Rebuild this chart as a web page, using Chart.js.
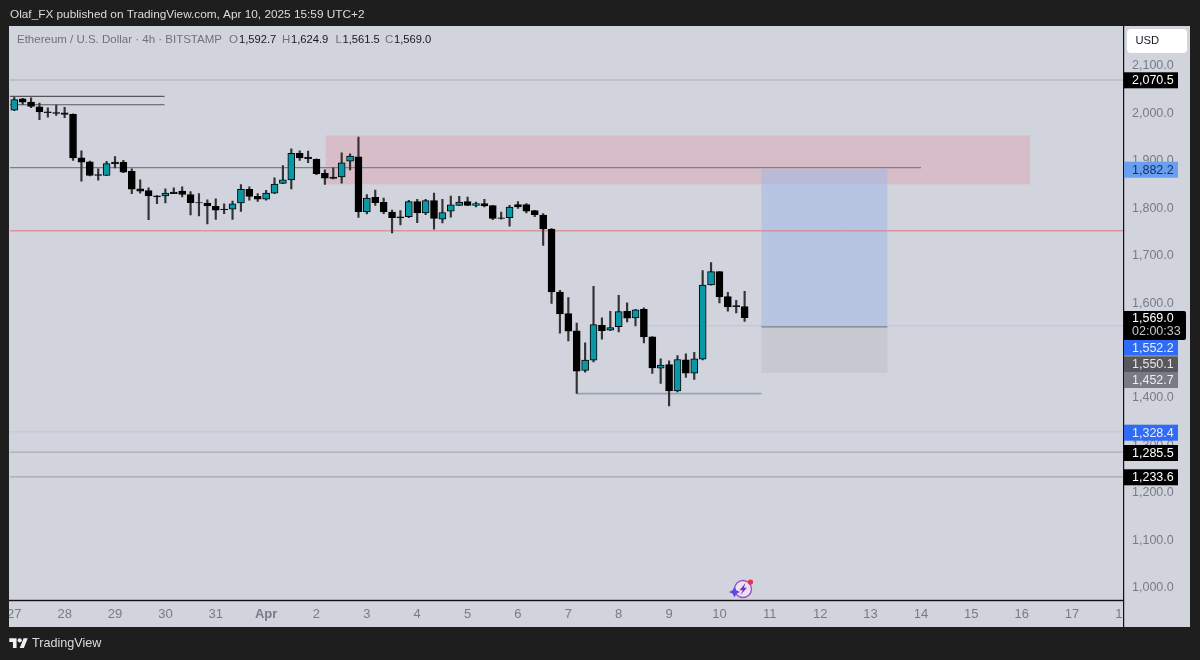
<!DOCTYPE html>
<html>
<head>
<meta charset="utf-8">
<title>ETHUSD 4h</title>
<script src="https://cdn.jsdelivr.net/npm/chart.js@4/dist/chart.umd.min.js"></script>
<style>
    html, body { margin: 0; padding: 0; background: #1e1e1e; }
    canvas { display: block; }
</style>
</head>
<body>
<canvas id="priceChart" width="1200" height="660"></canvas>
<script>
// 4h candles, bar 0 opens Mar 28, six bars per day
const barNumbers = [-6,-5,-4,-3,-2,-1,0,1,2,3,4,5,6,7,8,9,10,11,12,13,14,15,16,17,18,19,20,21,22,23,24,25,26,27,28,29,30,31,32,33,34,35,36,37,38,39,40,41,42,43,44,45,46,47,48,49,50,51,52,53,54,55,56,57,58,59,60,61,62,63,64,65,66,67,68,69,70,71,72,73,74,75,76,77,78,79,80,81];
const opens = [2007,2031,2024,2014,2003.5,2002,2001,1998,1906.5,1898,1871,1869,1897.4,1897,1878,1841,1837,1826,1826,1834,1836,1829,1812,1811,1804,1798,1798,1811,1840,1825,1819,1832,1852.4,1860,1916,1908,1903,1873.5,1866,1866,1899.5,1908.7,1792,1823,1812.4,1792,1782,1782,1814,1790,1816,1777,1794,1806,1814,1806,1809.6,1805.4,1780,1780,1807.5,1807.5,1795,1785.8,1756,1623,1577.8,1541.3,1457.7,1479.5,1553.2,1542.7,1550.4,1582.7,1568.7,1587,1528.6,1462.6,1470.3,1414.8,1480.2,1452,1481.6,1638.2,1666.3,1613.7,1594.7,1592.7];
const highs = [2034,2032,2033,2022,2012,2017.5,2013,1999,1921,1899.5,1883,1899,1909,1901,1883,1860,1843,1826.5,1841,1843,1845,1835,1831,1818,1820,1809.5,1815,1850,1845,1831,1838,1864,1890,1925.5,1921,1920.6,1904.4,1881,1885,1917,1915,1950,1829,1838.4,1821.5,1796,1795,1816.6,1819,1818.7,1832,1818.7,1825.8,1825,1823.7,1813,1818.7,1806,1792,1806,1813.8,1809.6,1795.6,1788.6,1757,1627,1611.5,1558,1516,1635.4,1568.7,1582.7,1616.5,1600.3,1587,1589.8,1529.3,1482.3,1478,1489.3,1492.8,1496.3,1668.4,1685.3,1666.3,1622.8,1606,1624.9];
const lows = [2006,2019,2012,1987,1992,1996,1991,1901,1857,1868,1859,1868.5,1885,1875,1831,1832,1776,1809.5,1811,1831,1824,1786,1784,1767,1776.5,1788.5,1776.5,1793.5,1817,1814.5,1817,1831,1851.7,1841,1901,1896,1871,1850.4,1861.6,1853,1881,1780.8,1788,1806,1788.5,1748,1765,1780,1769.6,1786.4,1756,1769,1781,1805.4,1805.4,1802.6,1802.6,1776,1777,1762,1799.8,1790,1782,1721.8,1599,1536.4,1520.2,1409.2,1454.2,1476,1523.7,1542,1539.2,1560,1552,1516,1451.4,1430.3,1383,1412.7,1443,1438.7,1480.2,1637.5,1600.3,1582.7,1579.2,1561.5];
const closes = [2029,2024,2015,2003,2001.5,2000,1998,1906,1897.4,1869,1869,1894,1894,1876,1840.5,1836,1826,1824,1832,1831,1829,1812,1811,1805,1796,1797,1809.5,1840,1825,1819,1832,1851,1860,1916,1906,1904.4,1873,1863.7,1863,1896,1910,1792.8,1821.5,1811.7,1792,1780,1779.4,1813.8,1790,1816,1778.7,1791,1807,1813,1806,1809.6,1804.7,1778.7,1778.7,1802.6,1802.6,1794,1786.4,1756.3,1623.5,1577,1540.6,1456.3,1479.5,1554.6,1542,1548.3,1582,1568,1585.6,1528.6,1463.3,1469,1414.8,1480.9,1452,1482.3,1638.2,1666.3,1613,1591.9,1592.6,1569];

// drawn levels: price plus first and last bar number of each line
const lineLevels = [2070.5, 2035.8, 2018.3, 1885.6, 1752.4, 1552.2, 1550.1, 1408.9, 1328.4, 1285.5, 1233.6];
const lineStarts = [-6.55, -6.55, -6.55, -6.55, -6.55, 69, 83, 61, -6.55, -6.55, -6.55];
const lineEnds = [126.07, 11.9, 11.9, 102, 126.07, 126.07, 98, 83, 126.07, 126.07, 126.07];
const lineColors = ['#aaadb6', '#55575d', '#55575d', '#7c7f88', '#d9797f', '#bcc4de', '#7f858d', '#98a2b2', '#bfc5e0', '#a9acb4', '#a4a7ae'];
const lineWidths = [1.2, 1.2, 1.2, 1.2, 1, 1, 1.6, 1.6, 1, 1.4, 1.2];

// zones: supply box, long target, long stop
const zoneTops = [1953.6, 1882.2, 1550.1];
const zoneBottoms = [1850.4, 1550.1, 1452.7];
const zoneStarts = [31.1, 83, 83];
const zoneEnds = [115, 98, 98];
const zoneColors = ['rgba(228,150,165,0.36)', 'rgba(150,180,235,0.45)', 'rgba(150,150,150,0.17)'];

const dayLabels = ['27','28','29','30','31','Apr','2','3','4','5','6','7','8','9','10','11','12','13','14','15','16','17','18'];

const tagValues = [2070.5, 1882.2, 1552.2, 1550.1, 1452.7, 1328.4, 1285.5, 1233.6];
const legendValues = [1592.7, 1624.9, 1561.5, 1569.0];
const countdown = '02:00:33';

const UI_FONT = '"Liberation Sans", Arial, sans-serif';
const PANEL = '#d1d4dc';
const FRAME = '#1e1e1e';
const TEAL = '#0a97a6';

function fmt(v) {
    return v.toLocaleString('en-US', { minimumFractionDigits: 1, maximumFractionDigits: 1 });
}

const candleWicks = barNumbers.map((n, i) => ({ x: n, y: [lows[i], highs[i]] }));
const candleBodies = barNumbers.map((n, i) => ({ x: n, y: [opens[i], closes[i]] }));
const bodyColors = barNumbers.map((n, i) => closes[i] > opens[i] ? TEAL : '#000000');

const levelDatasets = lineLevels.map((level, i) => ({
    type: 'line',
    order: 3,
    data: [{ x: lineStarts[i], y: level }, { x: lineEnds[i], y: level }],
    borderColor: lineColors[i],
    borderWidth: lineWidths[i],
    pointRadius: 0,
    tension: 0
}));

const framePlugin = {
    id: 'frame',
    beforeDraw(chart) {
        const ctx = chart.ctx;
        ctx.save();
        ctx.fillStyle = FRAME;
        ctx.fillRect(0, 0, 1200, 660);
        ctx.fillStyle = PANEL;
        ctx.fillRect(9, 26, 1181, 601);
        ctx.restore();
    },
    beforeDatasetsDraw(chart) {
        const ctx = chart.ctx;
        const x = chart.scales.x;
        const y = chart.scales.y;
        ctx.save();
        zoneTops.forEach((top, i) => {
            const left = x.getPixelForValue(zoneStarts[i]);
            const right = x.getPixelForValue(zoneEnds[i]);
            const py = y.getPixelForValue(top);
            ctx.fillStyle = zoneColors[i];
            ctx.fillRect(left, py, right - left, y.getPixelForValue(zoneBottoms[i]) - py);
        });
        ctx.restore();
    },
    afterDraw(chart) {
        const ctx = chart.ctx;
        ctx.save();
        // cut tick labels off at the panel edges
        ctx.fillStyle = FRAME;
        ctx.fillRect(0, 26, 9, 601);
        ctx.fillStyle = PANEL;
        ctx.fillRect(1124, 601, 66, 26);
        ctx.fillStyle = '#101014';
        ctx.fillRect(1123, 26, 1.2, 601);
        ctx.fillRect(9, 599.8, 1114, 1.4);

        drawHeader(ctx);
        drawPriceTags(ctx, chart.scales.y);
        drawBoltIcon(ctx);
        drawFooter(ctx);
        ctx.restore();
    }
};

function drawHeader(ctx) {
    ctx.textBaseline = 'middle';
    ctx.textAlign = 'left';
    ctx.font = '11.8px ' + UI_FONT;
    ctx.fillStyle = '#dcdcdc';
    ctx.fillText('Olaf_FX published on TradingView.com, Apr 10, 2025 15:59 UTC+2', 10, 15);

    ctx.font = '11.5px ' + UI_FONT;
    ctx.fillStyle = '#6f727d';
    ctx.fillText('Ethereum / U.S. Dollar · 4h · BITSTAMP', 17, 40);
    const letters = ['O', 'H', 'L', 'C'];
    const letterX = [229, 282, 335.5, 385];
    const valueX = [239, 291, 342.5, 394];
    letters.forEach((l, i) => {
        ctx.font = '11.5px ' + UI_FONT;
        ctx.fillStyle = '#6f727d';
        ctx.fillText(l, letterX[i], 40);
        ctx.font = '11.2px ' + UI_FONT;
        ctx.fillStyle = '#131722';
        ctx.fillText(fmt(legendValues[i]), valueX[i], 40);
    });

    // currency button
    ctx.fillStyle = '#ffffff';
    ctx.beginPath();
    ctx.roundRect(1127, 29, 60, 24, 4);
    ctx.fill();
    ctx.fillStyle = '#131722';
    ctx.font = '11.2px ' + UI_FONT;
    ctx.fillText('USD', 1135.5, 41);
}

function drawPriceTags(ctx, y) {
    // tags stack so they do not overlap, so their centres are not always at the price
    const centers = [80.3, 169.7, 347.7, 364.3, 380, 432.7, 453, 477.3];
    const fills = ['#000000', '#6a9ff0', '#2f6bf5', '#58585c', '#787a84', '#2f6bf5', '#000000', '#000000'];
    const inks = ['#ffffff', '#12306a', '#e8eeff', '#e6e6e6', '#eeeeee', '#e8eeff', '#ffffff', '#ffffff'];
    ctx.font = '12.5px ' + UI_FONT;
    ctx.textBaseline = 'middle';
    tagValues.forEach((v, i) => {
        ctx.fillStyle = fills[i];
        ctx.fillRect(1124, centers[i] - 8, 54, 16);
        ctx.fillStyle = inks[i];
        ctx.fillText(fmt(v), 1132, centers[i] + 0.5);
    });

    // last price with the bar countdown
    ctx.fillStyle = '#000000';
    ctx.beginPath();
    ctx.roundRect(1124, 311, 62, 29, [0, 2, 2, 0]);
    ctx.fill();
    ctx.fillStyle = '#ffffff';
    ctx.fillText(fmt(closes[closes.length - 1]), 1132, 318.5);
    ctx.fillStyle = '#c8c8c8';
    ctx.fillText(countdown, 1132, 331.5);
}

function drawBoltIcon(ctx) {
    ctx.fillStyle = '#e9e2f0';
    ctx.strokeStyle = '#a24fc4';
    ctx.lineWidth = 1.4;
    ctx.beginPath();
    ctx.arc(743, 589, 8.5, 0, Math.PI * 2);
    ctx.fill();
    ctx.stroke();
    ctx.fillStyle = '#7b2fb5';
    ctx.beginPath();
    ctx.moveTo(745.5, 583);
    ctx.lineTo(739.5, 590.2);
    ctx.lineTo(742.8, 590.2);
    ctx.lineTo(740.5, 595);
    ctx.lineTo(747, 587.8);
    ctx.lineTo(743.8, 587.8);
    ctx.closePath();
    ctx.fill();
    // spark
    ctx.fillStyle = '#5a49e6';
    ctx.beginPath();
    ctx.moveTo(734.5, 586.5);
    ctx.lineTo(736.3, 590.2);
    ctx.lineTo(740, 592);
    ctx.lineTo(736.3, 593.8);
    ctx.lineTo(734.5, 597.5);
    ctx.lineTo(732.7, 593.8);
    ctx.lineTo(729, 592);
    ctx.lineTo(732.7, 590.2);
    ctx.closePath();
    ctx.fill();
    ctx.fillStyle = '#e8344a';
    ctx.beginPath();
    ctx.arc(750.5, 582, 2.6, 0, Math.PI * 2);
    ctx.fill();
}

function drawFooter(ctx) {
    ctx.fillStyle = '#f0f0f0';
    ctx.save();
    ctx.translate(9.3, 636);
    ctx.scale(0.52, 0.54);
    ctx.fill(new Path2D('M14 22H7V11H0V4h14v18zM28 22h-8l7.5-18h8L28 22z'));
    ctx.beginPath();
    ctx.arc(20, 8, 4, 0, Math.PI * 2);
    ctx.fill();
    ctx.restore();
    ctx.fillStyle = '#dcdcdc';
    ctx.font = '12.6px ' + UI_FONT;
    ctx.textBaseline = 'middle';
    ctx.fillText('TradingView', 32, 644);
}

new Chart(document.getElementById('priceChart'), {
    type: 'bar',
    plugins: [framePlugin],
    data: {
        datasets: [
            {
                order: 1,
                data: candleBodies,
                backgroundColor: bodyColors,
                borderColor: '#000000',
                borderWidth: 1,
                borderSkipped: false,
                barThickness: 7,
                grouped: false
            },
            {
                order: 2,
                data: candleWicks,
                backgroundColor: '#323337',
                borderWidth: 0,
                barThickness: 1.5,
                grouped: false
            },
            ...levelDatasets
        ]
    },
    options: {
        responsive: false,
        animation: false,
        layout: { padding: { left: 9, top: 26, right: 10, bottom: 33 } },
        plugins: { legend: { display: false }, tooltip: { enabled: false } },
        scales: {
            x: {
                type: 'linear',
                offset: false,
                min: -6.55,
                max: 126.07,
                afterFit: s => { s.height = 27; },
                grid: { display: false, drawTicks: false, offset: false },
                border: { display: false },
                ticks: {
                    stepSize: 6,
                    includeBounds: false,
                    autoSkip: false,
                    maxRotation: 0,
                    padding: 7,
                    color: '#787b86',
                    font: ctx => ({
                        family: UI_FONT,
                        size: 13,
                        weight: ctx.tick && ctx.tick.value === 24 ? 'bold' : 'normal'
                    }),
                    callback: v => dayLabels[(v + 6) / 6]
                }
            },
            y: {
                position: 'right',
                min: 973.7,
                max: 2184.4,
                afterFit: s => { s.width = 67; },
                grid: { display: false, drawTicks: false },
                border: { display: false },
                ticks: {
                    stepSize: 100,
                    includeBounds: false,
                    autoSkip: false,
                    align: 'center',
                    padding: 9,
                    color: '#787b86',
                    font: { family: UI_FONT, size: 12.5 },
                    callback: v => fmt(v)
                }
            }
        }
    }
});
</script>
</body>
</html>
